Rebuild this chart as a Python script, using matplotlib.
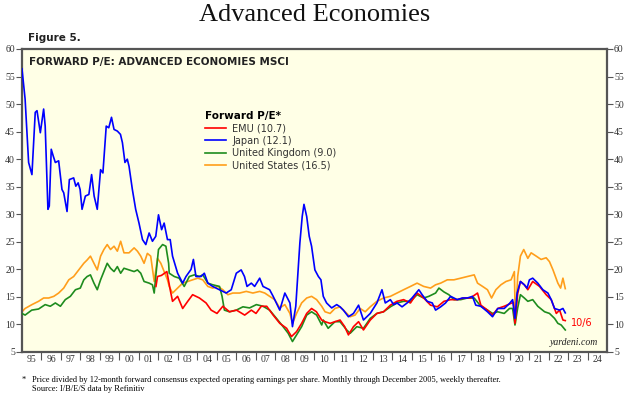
import matplotlib.pyplot as plt
from matplotlib.ticker import FixedLocator, NullFormatter

# forward P/E values (year as decimal)
emu_x = [2001.87, 2001.95, 2002.15, 2002.43, 2002.6, 2002.72, 2002.98, 2003.24, 2003.5, 2003.75,
         2004.1, 2004.44, 2004.7, 2005.0, 2005.3, 2005.64, 2006.0, 2006.42, 2006.76, 2007.0,
         2007.27, 2007.55, 2007.88, 2008.22, 2008.57, 2008.82, 2009.08, 2009.34, 2009.6, 2009.85,
         2010.1, 2010.37, 2010.54, 2010.8, 2011.05, 2011.31, 2011.55, 2011.74, 2012.0, 2012.26,
         2012.51, 2012.86, 2013.2, 2013.54, 2013.89, 2014.23, 2014.57, 2014.92, 2015.26, 2015.6,
         2015.95, 2016.3, 2016.64, 2016.98, 2017.32, 2017.66, 2018.0, 2018.36, 2018.53, 2018.87,
         2019.13, 2019.4, 2019.73, 2020.05, 2020.2, 2020.28, 2020.42, 2020.56, 2020.76, 2020.94,
         2021.19, 2021.54, 2021.88, 2022.14, 2022.4, 2022.57, 2022.74, 2022.86]
emu_y = [16.9, 18.7, 18.9, 19.6, 16.3, 14.2, 15.1, 12.9, 14.2, 15.4,
         14.8, 13.9, 12.6, 12.0, 13.3, 12.3, 12.6, 11.7, 12.6, 12.0,
         13.3, 13.3, 11.7, 10.2, 9.3, 7.8, 8.7, 10.2, 12.0, 12.9,
         12.3, 10.8, 10.5, 10.2, 10.5, 10.8, 9.6, 8.1, 9.6, 10.5,
         9.0, 10.8, 12.0, 12.3, 13.5, 14.2, 14.5, 13.9, 15.7, 14.8,
         13.5, 13.2, 14.2, 14.5, 14.5, 14.8, 14.8, 15.7, 13.5, 12.6,
         11.7, 12.9, 13.3, 13.8, 14.0, 10.2, 15.6, 17.8, 17.2, 16.3,
         17.8, 16.9, 15.4, 14.5, 12.0, 12.6, 10.8, 10.7]

japan_x = [1995.0, 1995.16, 1995.34, 1995.51, 1995.68, 1995.77, 1995.94, 1996.11, 1996.19, 1996.33,
           1996.4, 1996.5, 1996.6, 1996.71, 1996.88, 1997.05, 1997.14, 1997.31, 1997.43, 1997.65,
           1997.76, 1997.88, 1997.98, 1998.08, 1998.25, 1998.43, 1998.57, 1998.7, 1998.86, 1999.03,
           1999.15, 1999.32, 1999.45, 1999.59, 1999.72, 1999.89, 2000.05, 2000.15, 2000.28, 2000.4,
           2000.49, 2000.66, 2000.83, 2001.0, 2001.18, 2001.35, 2001.52, 2001.69, 2001.86, 2002.0,
           2002.16, 2002.29, 2002.46, 2002.6, 2002.72, 2002.98, 2003.24, 2003.41, 2003.67, 2003.79,
           2003.92, 2004.18, 2004.35, 2004.53, 2004.78, 2005.13, 2005.47, 2005.73, 2005.99, 2006.24,
           2006.41, 2006.54, 2006.76, 2006.93, 2007.19, 2007.36, 2007.7, 2007.88, 2008.22, 2008.48,
           2008.74, 2008.87, 2009.04, 2009.25, 2009.37, 2009.46, 2009.6, 2009.73, 2009.85, 2010.02,
           2010.2, 2010.33, 2010.45, 2010.62, 2010.88, 2011.14, 2011.31, 2011.48, 2011.74, 2012.0,
           2012.26, 2012.51, 2012.86, 2013.2, 2013.46, 2013.63, 2013.89, 2014.06, 2014.23, 2014.49,
           2014.75, 2015.0, 2015.35, 2015.52, 2015.78, 2016.04, 2016.21, 2016.47, 2016.72, 2016.98,
           2017.32, 2017.58, 2017.84, 2018.1, 2018.27, 2018.53, 2018.87, 2019.13, 2019.4, 2019.73,
           2020.0, 2020.16, 2020.28, 2020.39, 2020.56, 2020.76, 2020.9, 2021.02, 2021.19, 2021.45,
           2021.71, 2021.97, 2022.14, 2022.31, 2022.57, 2022.74, 2022.86]
japan_y = [56.4, 50.9, 39.4, 37.2, 48.5, 48.8, 44.8, 49.1, 46.0, 30.9,
           31.5, 41.8, 40.6, 39.4, 39.7, 34.5, 33.9, 30.5, 36.3, 36.6,
           35.1, 35.7, 34.5, 30.9, 33.3, 33.6, 37.2, 33.3, 30.9, 38.1,
           37.5, 46.0, 45.7, 47.6, 45.4, 45.1, 44.5, 43.0, 39.4, 40.0,
           38.7, 34.5, 30.9, 28.4, 25.4, 24.5, 26.6, 25.1, 26.0, 29.9,
           27.2, 28.4, 25.4, 25.4, 22.4, 19.3, 17.5, 18.7, 20.0, 21.8,
           18.7, 18.7, 19.3, 17.5, 16.9, 16.3, 15.7, 16.3, 19.3, 19.9,
           18.7, 16.9, 17.5, 16.9, 18.4, 16.9, 16.3, 15.1, 12.6, 15.7,
           13.9, 9.6, 13.3, 24.8, 29.6, 31.8, 29.6, 26.0, 24.2, 19.9,
           18.7, 18.1, 15.1, 13.9, 13.0, 13.6, 13.2, 12.6, 11.4, 12.0,
           13.5, 10.8, 12.0, 13.9, 16.3, 13.9, 14.5, 13.6, 13.9, 13.2,
           13.9, 14.8, 16.3, 15.4, 14.2, 13.9, 12.6, 13.2, 13.9, 15.1,
           14.5, 14.8, 14.8, 15.1, 13.5, 13.3, 12.3, 11.4, 12.9, 12.9,
           13.8, 14.5, 11.1, 15.7, 17.8, 17.2, 16.6, 18.1, 18.4, 17.5,
           16.3, 15.7, 14.5, 12.9, 12.6, 12.9, 12.1]

uk_x = [1995.0, 1995.16, 1995.5, 1995.85, 1996.19, 1996.45, 1996.71, 1996.97, 1997.22, 1997.48,
        1997.74, 1997.99, 1998.17, 1998.34, 1998.51, 1998.69, 1998.86, 1999.03, 1999.2, 1999.37,
        1999.54, 1999.72, 1999.89, 2000.06, 2000.23, 2000.49, 2000.75, 2000.92, 2001.09, 2001.26,
        2001.52, 2001.69, 2001.78, 2001.86, 2002.0, 2002.21, 2002.38, 2002.52, 2002.55, 2002.81,
        2003.06, 2003.32, 2003.58, 2003.84, 2004.1, 2004.27, 2004.53, 2004.78, 2005.13, 2005.26,
        2005.38, 2005.64, 2005.99, 2006.33, 2006.67, 2007.02, 2007.36, 2007.7, 2008.05, 2008.39,
        2008.65, 2008.87, 2009.08, 2009.34, 2009.6, 2009.85, 2010.11, 2010.37, 2010.45, 2010.7,
        2010.96, 2011.05, 2011.31, 2011.65, 2011.83, 2012.17, 2012.51, 2012.86, 2013.2, 2013.54,
        2013.89, 2014.23, 2014.57, 2014.92, 2015.26, 2015.6, 2015.86, 2016.21, 2016.38, 2016.64,
        2016.89, 2017.15, 2017.5, 2017.84, 2018.19, 2018.53, 2018.87, 2019.13, 2019.39, 2019.73,
        2020.0, 2020.16, 2020.28, 2020.42, 2020.56, 2020.76, 2020.94, 2021.19, 2021.45, 2021.8,
        2022.05, 2022.31, 2022.48, 2022.65, 2022.86]
uk_y = [12.0, 11.7, 12.6, 12.8, 13.6, 13.3, 13.9, 13.3, 14.5, 15.1,
        16.3, 16.6, 18.1, 18.7, 19.0, 17.5, 16.3, 18.1, 19.6, 21.1,
        20.2, 19.6, 20.5, 19.3, 20.2, 19.9, 19.6, 19.9, 19.3, 17.8,
        17.5, 17.2, 15.7, 18.7, 23.6, 24.5, 24.2, 21.1, 19.3, 18.7,
        18.4, 16.9, 18.7, 19.0, 18.7, 19.0, 17.5, 17.2, 16.9, 15.1,
        12.6, 12.3, 12.6, 13.2, 13.0, 13.6, 13.3, 12.6, 11.1, 9.6,
        8.4, 6.9, 8.1, 9.6, 11.7, 12.3, 11.7, 9.9, 10.8, 9.3,
        10.2, 10.5, 10.5, 9.0, 8.4, 9.6, 9.3, 11.1, 12.0, 12.3,
        13.2, 13.9, 14.2, 14.2, 15.4, 14.8, 15.1, 15.7, 16.6, 15.9,
        15.4, 14.5, 14.5, 14.8, 14.8, 13.3, 12.6, 12.0, 12.3, 12.0,
        12.9, 12.9, 9.9, 13.0, 15.4, 14.8, 14.2, 14.5, 13.3, 12.3,
        12.0, 11.1, 10.2, 9.9, 9.0]

us_x = [1995.0, 1995.16, 1995.51, 1995.85, 1996.11, 1996.37, 1996.63, 1996.88, 1997.14, 1997.4,
        1997.65, 1997.91, 1998.17, 1998.34, 1998.51, 1998.69, 1998.86, 1999.03, 1999.2, 1999.37,
        1999.54, 1999.72, 1999.89, 2000.06, 2000.23, 2000.49, 2000.75, 2000.92, 2001.09, 2001.26,
        2001.43, 2001.6, 2001.78, 2001.95, 2002.12, 2002.29, 2002.46, 2002.55, 2002.72, 2002.98,
        2003.24, 2003.5, 2003.75, 2004.01, 2004.27, 2004.53, 2004.78, 2005.04, 2005.3, 2005.56,
        2005.81, 2006.16, 2006.5, 2006.84, 2007.19, 2007.45, 2007.7, 2007.96, 2008.22, 2008.48,
        2008.74, 2008.87, 2009.08, 2009.34, 2009.6, 2009.85, 2010.11, 2010.37, 2010.54, 2010.8,
        2011.05, 2011.31, 2011.57, 2011.83, 2012.08, 2012.34, 2012.6, 2012.86, 2013.2, 2013.54,
        2013.89, 2014.23, 2014.57, 2014.92, 2015.26, 2015.6, 2015.95, 2016.21, 2016.47, 2016.81,
        2017.15, 2017.5, 2017.84, 2018.19, 2018.36, 2018.62, 2018.87, 2019.08, 2019.3, 2019.56,
        2019.82, 2020.08, 2020.25, 2020.3, 2020.42, 2020.56, 2020.73, 2020.94, 2021.11, 2021.37,
        2021.62, 2021.88, 2022.05, 2022.23, 2022.48, 2022.62, 2022.74, 2022.86]
us_y = [12.3, 12.9, 13.6, 14.2, 14.8, 14.8, 15.1, 15.7, 16.6, 18.1,
        18.7, 19.9, 21.1, 21.7, 22.4, 21.1, 19.9, 22.4, 23.6, 24.5,
        23.6, 24.2, 23.3, 25.1, 23.0, 23.0, 23.9, 23.3, 22.4, 21.1,
        22.9, 22.4, 17.8, 22.0, 21.1, 19.6, 18.1, 16.9, 15.7, 16.6,
        17.5, 17.8, 18.1, 18.4, 18.1, 16.9, 16.6, 16.9, 16.3, 15.4,
        15.7, 15.7, 16.0, 15.7, 16.0, 15.7, 15.1, 14.5, 13.0, 13.6,
        12.0, 10.2, 12.0, 13.9, 14.8, 15.1, 14.5, 13.3, 12.3, 12.0,
        12.9, 13.2, 12.3, 11.4, 11.7, 12.9, 12.3, 13.2, 14.2, 14.8,
        15.1, 15.7, 16.3, 16.9, 17.5, 16.9, 16.6, 17.2, 17.5, 18.1,
        18.1, 18.4, 18.7, 19.0, 17.5, 16.9, 16.3, 14.8, 16.3, 17.2,
        17.8, 18.1, 19.6, 10.2, 18.7, 22.4, 23.6, 22.0, 23.0, 22.4,
        21.8, 22.1, 21.4, 19.9, 17.5, 16.6, 18.4, 16.5]

series_names = ['EMU (10.7)', 'Japan (12.1)', 'United Kingdom (9.0)', 'United States (16.5)']
y_ticks = list(range(5, 61, 5))
years = list(range(1995, 2025))

fig = plt.figure(figsize=(6.3, 3.98), dpi=100)
ax = fig.add_axes([0.0349, 0.1156, 0.9286, 0.7613])
ax.set_facecolor('#FFFFE6')

# US first so it sits underneath, like in the original
ax.plot(us_x, us_y, color='#FF9E1B', lw=1.2, label=series_names[3], zorder=2)
ax.plot(uk_x, uk_y, color='#1E8C1E', lw=1.2, label=series_names[2], zorder=3)
ax.plot(emu_x, emu_y, color='#FF0000', lw=1.2, label=series_names[0], zorder=4)
ax.plot(japan_x, japan_y, color='#0000FF', lw=1.2, label=series_names[1], zorder=5)

ax.set_xlim(1995, 2025)
ax.set_ylim(5, 60)

# y ticks on both sides
ax.set_yticks(y_ticks)
ax.tick_params(axis='y', which='major', direction='out', length=4, width=0.8, color='#555555',
               labelsize=7, labelcolor='#333333', left=True, right=True, labelleft=True,
               labelright=True, pad=1)
for lab in ax.get_yticklabels():
    lab.set_family('Liberation Serif')

# x: ticks at year boundaries, labels centred in between
ax.xaxis.set_major_locator(FixedLocator(years[1:]))
ax.xaxis.set_major_formatter(NullFormatter())
ax.xaxis.set_minor_locator(FixedLocator([y + 0.5 for y in years]))
ax.set_xticklabels([str(y)[2:] for y in years], minor=True, family='Liberation Serif')
ax.tick_params(axis='x', which='major', direction='out', length=6, width=0.8, color='#555555')
ax.tick_params(axis='x', which='minor', length=0, labelsize=7, labelcolor='#333333', pad=2)

for s in ax.spines.values():
    s.set_color('#555555')
    s.set_linewidth(1.6)

leg = ax.legend(handles=[ax.lines[2], ax.lines[3], ax.lines[1], ax.lines[0]],
                title='Forward P/E*', loc='upper left', bbox_to_anchor=(0.298, 0.825),
                frameon=False, fontsize=7, handlelength=2.2, handletextpad=0.6,
                labelspacing=0.25, alignment='left',
                title_fontproperties={'weight': 'bold', 'size': 7.5})
for t in leg.get_texts():
    t.set_color('#333333')

ax.text(0.012, 0.975, 'FORWARD P/E: ADVANCED ECONOMIES MSCI', transform=ax.transAxes,
        fontsize=7.5, fontweight='bold', color='#222222', va='top', ha='left')
ax.text(2023.15, 10.3, '10/6', color='#FF0000', fontsize=7, va='center')
ax.text(0.985, 0.015, 'yardeni.com', transform=ax.transAxes, fontsize=7, style='italic',
        family='Liberation Serif', ha='right', va='bottom', color='#222222')

fig.text(0.5, 0.962, 'Advanced Economies', ha='center', va='center', fontsize=19,
         family='Liberation Serif', color='#111111')
fig.text(0.045, 0.905, 'Figure 5.', ha='left', va='center', fontsize=7.5, fontweight='bold',
         color='#222222')
fig.text(0.035, 0.046, '*', fontsize=6, family='Liberation Serif', va='center')
fig.text(0.05, 0.046, 'Price divided by 12-month forward consensus expected operating earnings per share. '
         'Monthly through December 2005, weekly thereafter.', fontsize=6,
         family='Liberation Serif', va='center')
fig.text(0.05, 0.023, 'Source: I/B/E/S data by Refinitiv', fontsize=6,
         family='Liberation Serif', va='center')

plt.savefig('out.png', dpi=100)
